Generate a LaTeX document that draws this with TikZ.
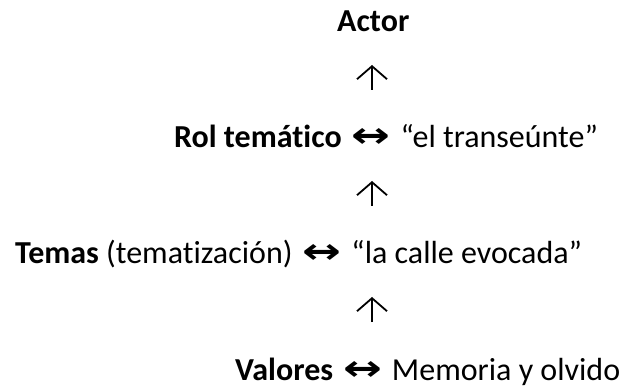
\documentclass[tikz,border=0pt]{standalone}
\usepackage{fontspec}
\setmainfont{Carlito}[RawFeature={-liga}]
\newfontfamily\flechas{DejaVu Sans}
\newcommand{\dobleflecha}{\hspace{10pt}{\flechas\bfseries\scalebox{1.45}[1.1]{↔}}\hspace{10pt}}
\usepackage{tikz}
\usetikzlibrary{arrows.meta}

\tikzset{
  linea/.style={anchor=base west, inner sep=0pt, font=\fontsize{32}{38}\selectfont},
  subir/.style={line width=1.8pt, -{Straight Barb[length=13pt,width=30pt]}}
}

\begin{document}
\begin{tikzpicture}[x=1pt,y=1pt]
    \useasboundingbox (0,0) rectangle (621,-387);
    \node[linea] (actor) at (337,-32) {\textbf{Actor}};
    \node[linea] (rol) at (174,-148) {\textbf{Rol temático}\dobleflecha“el transeúnte”};
    \node[linea] (temas) at (15,-264) {\textbf{Temas} (tematización)\dobleflecha“la calle evocada”};
    \node[linea] (valores) at (235,-380) {\textbf{Valores}\dobleflecha Memoria y olvido};
    \coordinate (b1) at (372,-90);  \coordinate (t1) at (372,-65);
    \coordinate (b2) at (372,-206); \coordinate (t2) at (372,-181);
    \coordinate (b3) at (372,-322); \coordinate (t3) at (372,-297);
    \foreach \i in {1,2,3}
      \draw[subir] (b\i) -- (t\i);
  \end{tikzpicture}
\end{document}
